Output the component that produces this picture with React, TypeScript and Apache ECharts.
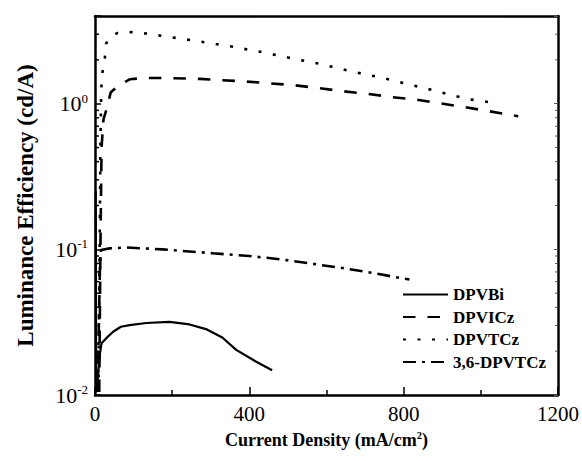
import React, { useEffect, useRef } from "react";
import * as echarts from "echarts";

const seriesNames = ["DPVBi", "DPVICz", "DPVTCz", "3,6-DPVTCz"];

const dpvbiX = [2, 3, 6, 10, 13, 17, 33, 47, 67, 90, 133, 193, 245, 290, 330, 366, 418, 459];
const dpvbiY = [0.25, 0.0105, 0.012, 0.016, 0.0194, 0.0227, 0.0251, 0.0272, 0.0294, 0.0302, 0.0312, 0.0318, 0.0305, 0.0282, 0.0248, 0.0204, 0.0169, 0.0148];

const dpviczX = [11, 14, 17, 22, 29, 41, 59, 90, 124, 190, 271, 390, 452, 516, 578, 640, 705, 769, 839, 890, 955, 1019, 1097];
const dpviczY = [0.0105, 0.1, 0.5, 0.78, 0.9, 1.2, 1.32, 1.47, 1.5, 1.5, 1.48, 1.42, 1.38, 1.34, 1.28, 1.22, 1.17, 1.11, 1.06, 1.01, 0.95, 0.89, 0.82];

const dpvtczX = [9, 12, 14, 16, 18, 25, 29, 40, 59, 94, 133, 209, 284, 361, 436, 510, 586, 662, 737, 813, 885, 963, 1037];
const dpvtczY = [0.0105, 0.1, 0.5, 1.2, 1.57, 1.99, 2.59, 2.9, 3.06, 3.1, 3.03, 2.83, 2.64, 2.45, 2.25, 2.05, 1.87, 1.67, 1.52, 1.36, 1.22, 1.08, 1.01];

const dpvtcz36X = [7, 10, 13, 15.5, 38, 83, 119, 175, 305, 400, 483, 557, 637, 717, 797, 815];
const dpvtcz36Y = [0.0105, 0.03, 0.08, 0.0988, 0.1016, 0.103, 0.1017, 0.1, 0.094, 0.09, 0.0853, 0.08, 0.0747, 0.069, 0.0632, 0.062];

const xMin = 0;
const xMax = 1200;
const xInterval = 400;
const yMin = 0.01;
const yMax = 4;
const minorTickValues = [0.02, 0.03, 0.04, 0.05, 0.06, 0.07, 0.08, 0.09, 0.2, 0.3, 0.4, 0.5, 0.6, 0.7, 0.8, 0.9, 2, 3];

const FONT = "'Liberation Serif', 'Times New Roman', serif";

function zip(xs: number[], ys: number[]) {
  return xs.map((x, i) => [x, ys[i]]);
}

export default function App() {
  const ref = useRef<HTMLDivElement>(null);
  useEffect(() => {
    if (!ref.current) return;
    const chart = echarts.init(ref.current, undefined, { renderer: "svg" });
    const lineBase = { type: "line", showSymbol: false, symbol: "none", smooth: false, silent: true };
    const minorData = [
      ...minorTickValues.map((v) => [xMin, v, 1]),
      ...minorTickValues.map((v) => [xMax, v, -1]),
    ];
    chart.setOption({
      animation: false,
      backgroundColor: "#fff",
      grid: { left: 95, right: 22, top: 16, bottom: 66, show: false },
      legend: {
        data: seriesNames,
        orient: "vertical",
        left: 402,
        top: 286,
        padding: 0,
        itemWidth: 45,
        itemHeight: 14,
        itemGap: 5.5,
        itemStyle: { opacity: 0 },
        textStyle: { fontFamily: FONT, fontWeight: "bold", fontSize: 17, color: "#000" },
      },
      xAxis: [
        {
          type: "value",
          min: xMin,
          max: xMax,
          interval: xInterval,
          position: "bottom",
          axisLine: { show: true, onZero: false, lineStyle: { color: "#000", width: 2.5 } },
          axisTick: { show: true, inside: true, length: 8, lineStyle: { color: "#000", width: 1.5 } },
          minorTick: { show: true, splitNumber: 2, length: 5, lineStyle: { color: "#000", width: 1.5 } },
          splitLine: { show: false },
          axisLabel: { fontFamily: FONT, fontSize: 21, color: "#000", margin: 8, formatter: (v: number) => String(v) },
          name: "{b|Current Density (mA/cm}{s|2}{b|)}",
          nameLocation: "middle",
          nameGap: 35,
          nameTextStyle: {
            rich: {
              b: { fontFamily: FONT, fontWeight: "bold", fontSize: 18, color: "#000" },
              s: { fontFamily: FONT, fontWeight: "bold", fontSize: 10.5, color: "#000", verticalAlign: "bottom", padding: [0, 0, 9, 0] },
            },
          },
        },
        {
          type: "value",
          min: xMin,
          max: xMax,
          interval: xInterval,
          position: "top",
          axisLine: { show: true, onZero: false, lineStyle: { color: "#000", width: 2.5 } },
          axisTick: { show: false },
          axisLabel: { show: false },
          splitLine: { show: false },
        },
      ],
      yAxis: [
        {
          type: "log",
          logBase: 10,
          min: yMin,
          max: yMax,
          position: "left",
          axisLine: { show: true, onZero: false, lineStyle: { color: "#000", width: 2.5 } },
          axisTick: { show: true, inside: true, length: 6, lineStyle: { color: "#000", width: 1.5 } },
          splitLine: { show: false },
          axisLabel: {
            margin: 7,
            formatter: (v: number) => {
              const l = Math.log10(v);
              const e = Math.round(l);
              if (Math.abs(l - e) > 1e-6) return "";
              return `{b|10}{s|${e}}`;
            },
            rich: {
              b: { fontFamily: FONT, fontSize: 22, color: "#000" },
              s: { fontFamily: FONT, fontSize: 13, color: "#000", verticalAlign: "bottom", padding: [0, 0, 11, 0] },
            },
          },
          name: "Luminance Efficiency (cd/A)",
          nameLocation: "middle",
          nameGap: 58,
          nameTextStyle: { fontFamily: FONT, fontWeight: "bold", fontSize: 23, color: "#000" },
        },
        {
          type: "log",
          logBase: 10,
          min: yMin,
          max: yMax,
          position: "right",
          axisLine: { show: true, onZero: false, lineStyle: { color: "#000", width: 2.5 } },
          axisTick: { show: true, inside: true, length: 4, lineStyle: { color: "#555", width: 1 } },
          axisLabel: { show: false },
          splitLine: { show: false },
        },
      ],
      series: [
        {
          ...lineBase,
          name: seriesNames[0],
          data: zip(dpvbiX, dpvbiY),
          lineStyle: { color: "#000", width: 2.2, type: "solid" },
          itemStyle: { color: "#000" },
        },
        {
          ...lineBase,
          name: seriesNames[1],
          data: zip(dpviczX, dpviczY),
          lineStyle: { color: "#000", width: 2.6, type: [12.5, 12] },
          itemStyle: { color: "#000" },
        },
        {
          ...lineBase,
          name: seriesNames[2],
          data: zip(dpvtczX, dpvtczY),
          lineStyle: { color: "#000", width: 2.6, type: [3, 11.5] },
          itemStyle: { color: "#000" },
        },
        {
          ...lineBase,
          name: seriesNames[3],
          data: zip(dpvtcz36X, dpvtcz36Y),
          lineStyle: { color: "#000", width: 2.6, type: [13, 6, 3, 6] },
          itemStyle: { color: "#000" },
        },
        {
          type: "custom",
          name: "minorTicks",
          silent: true,
          clip: false,
          data: minorData,
          renderItem: (params: any, api: any) => {
            const p = api.coord([api.value(0), api.value(1)]);
            const dir = api.value(2);
            const len = dir > 0 ? 4 : 3;
            return {
              type: "line",
              shape: { x1: p[0], y1: p[1], x2: p[0] + dir * len, y2: p[1] },
              style: { stroke: dir > 0 ? "#000" : "#555", lineWidth: dir > 0 ? 1.5 : 1 },
            };
          },
        },
      ],
    });
    return () => chart.dispose();
  }, []);
  return <div ref={ref} style={{ position: "fixed", left: 0, top: 0, width: 582, height: 461 }} />;
}
